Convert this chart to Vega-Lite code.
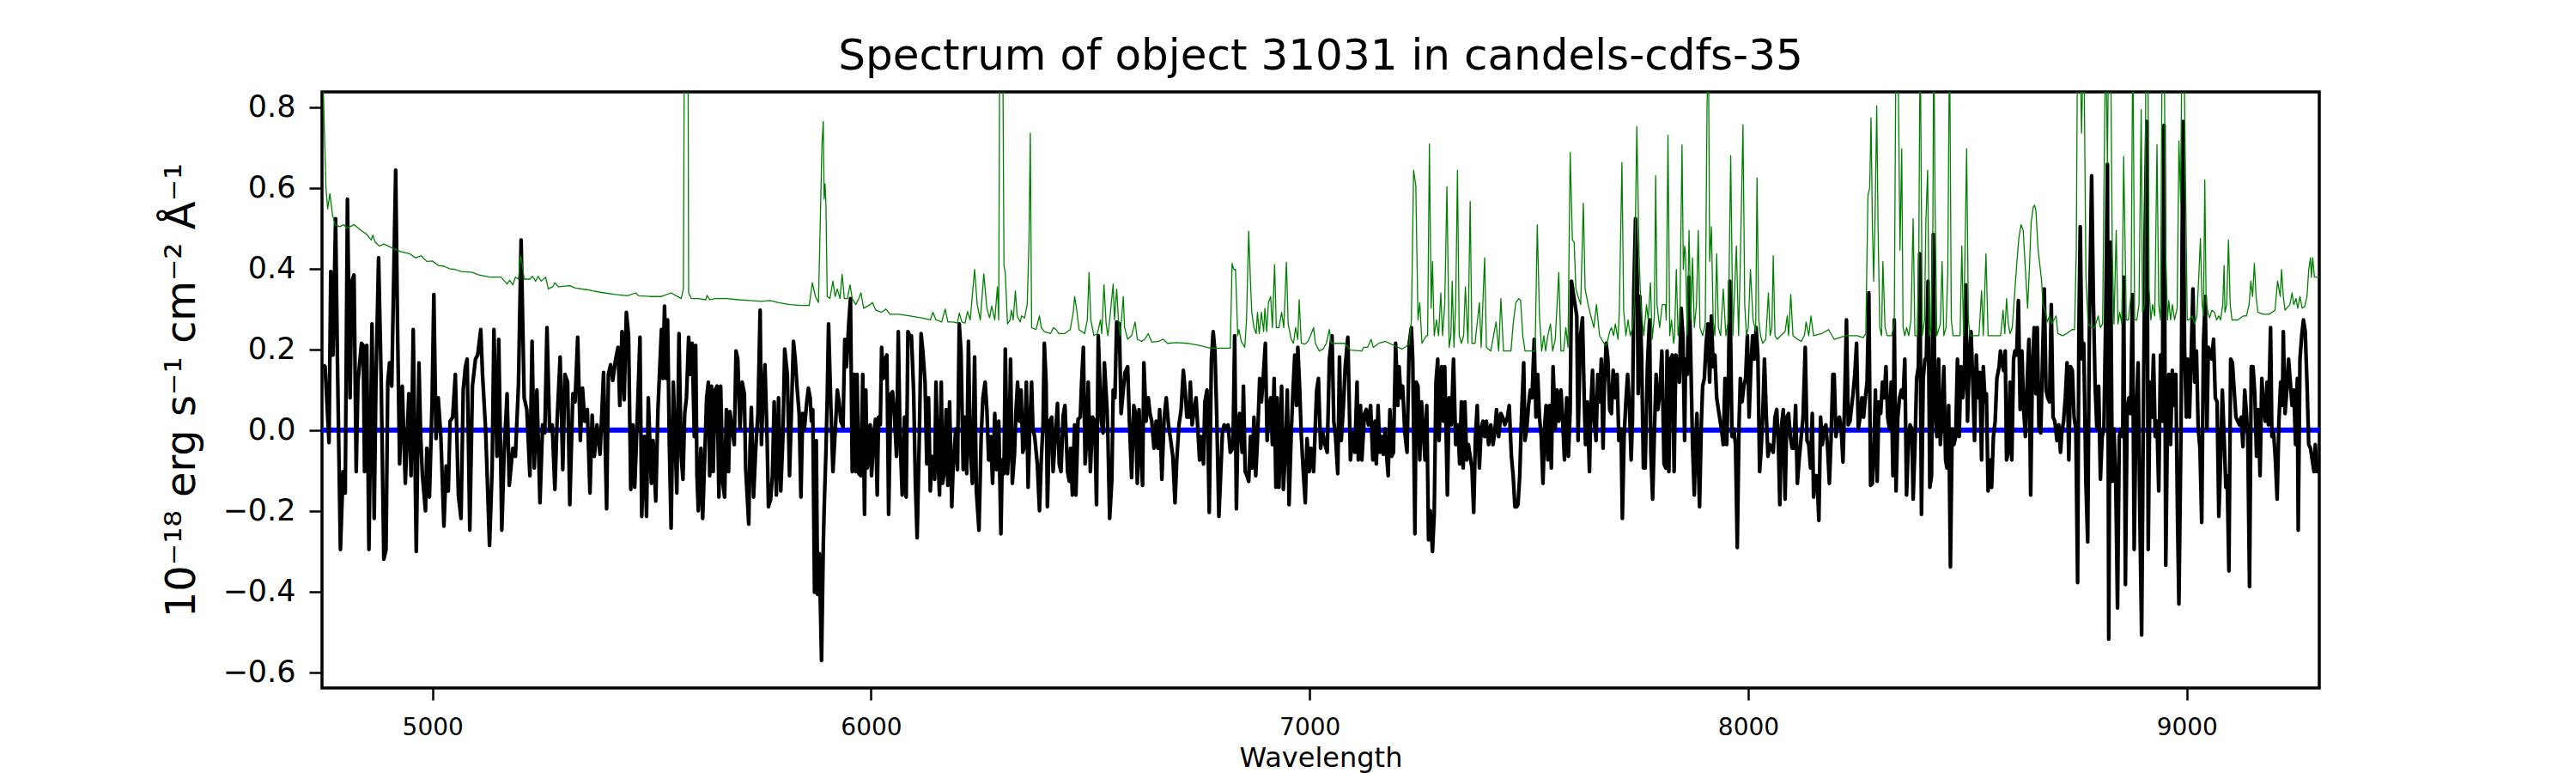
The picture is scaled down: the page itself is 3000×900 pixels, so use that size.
{
  "$schema": "https://vega.github.io/schema/vega-lite/v6.json",
  "description": "Spectrum of object 31031 in candels-cdfs-35",
  "width": 2326,
  "height": 694,
  "autosize": {"type": "none"},
  "padding": {"left": 375, "top": 107, "right": 299, "bottom": 99},
  "background": "white",
  "title": {
    "text": "Spectrum of object 31031 in candels-cdfs-35",
    "font": "DejaVu Sans",
    "fontSize": 50,
    "fontWeight": "normal",
    "color": "black",
    "anchor": "middle",
    "frame": "group",
    "baseline": "bottom",
    "offset": 14,
    "dy": 48
  },
  "datasets": {
    "flux": [
      {"w":4751,"f":0.162},{"w":4755,"f":0.157},{"w":4764,"f":-0.031},{"w":4768,"f":0.393},{"w":4773,"f":0.186},{"w":4779,"f":0.524},{"w":4783,"f":0.186},{"w":4790,"f":-0.296},{"w":4796,"f":-0.103},{"w":4801,"f":-0.156},{"w":4806,"f":0.572},{"w":4812,"f":0.08},{"w":4816,"f":0.369},{"w":4821,"f":0.384},{"w":4826,"f":-0.103},{"w":4830,"f":0.119},{"w":4838,"f":0.215},{"w":4842,"f":0.21},{"w":4845,"f":-0.103},{"w":4850,"f":0.21},{"w":4855,"f":-0.296},{"w":4862,"f":0.263},{"w":4867,"f":-0.219},{"w":4871,"f":0.119},{"w":4877,"f":0.427},{"w":4883,"f":0.119},{"w":4889,"f":-0.32},{"w":4894,"f":-0.296},{"w":4898,"f":0.119},{"w":4902,"f":0.167},{"w":4907,"f":0.109},{"w":4916,"f":0.644},{"w":4920,"f":0.273},{"w":4925,"f":-0.084},{"w":4931,"f":0.109},{"w":4938,"f":-0.132},{"w":4946,"f":0.09},{"w":4951,"f":-0.113},{"w":4956,"f":0.249},{"w":4963,"f":-0.301},{"w":4969,"f":0.167},{"w":4973,"f":-0.016},{"w":4977,"f":-0.113},{"w":4984,"f":-0.2},{"w":4987,"f":-0.045},{"w":4993,"f":-0.166},{"w":4999,"f":0.07},{"w":5003,"f":0.336},{"w":5008,"f":-0.021},{"w":5013,"f":0.08},{"w":5019,"f":-0.016},{"w":5026,"f":-0.238},{"w":5031,"f":-0.089},{"w":5036,"f":-0.151},{"w":5040,"f":0.022},{"w":5046,"f":0.032},{"w":5052,"f":0.138},{"w":5059,"f":-0.161},{"w":5065,"f":-0.219},{"w":5070,"f":0.099},{"w":5075,"f":0.157},{"w":5079,"f":0.176},{"w":5085,"f":-0.248},{"w":5091,"f":0.109},{"w":5098,"f":0.176},{"w":5103,"f":0.186},{"w":5110,"f":0.249},{"w":5114,"f":0.138},{"w":5121,"f":0.003},{"w":5130,"f":-0.286},{"w":5136,"f":-0.094},{"w":5140,"f":0.249},{"w":5147,"f":-0.065},{"w":5151,"f":0.225},{"w":5158,"f":-0.248},{"w":5163,"f":-0.065},{"w":5170,"f":0.09},{"w":5175,"f":-0.137},{"w":5183,"f":-0.045},{"w":5189,"f":-0.065},{"w":5196,"f":0.114},{"w":5202,"f":0.471},{"w":5209,"f":0.08},{"w":5215,"f":0.051},{"w":5222,"f":-0.113},{"w":5227,"f":0.22},{"w":5232,"f":-0.094},{"w":5238,"f":0.099},{"w":5245,"f":-0.18},{"w":5251,"f":0.013},{"w":5256,"f":-0.007},{"w":5261,"f":0.254},{"w":5267,"f":-0.002},{"w":5273,"f":0.013},{"w":5279,"f":-0.147},{"w":5284,"f":0.022},{"w":5291,"f":0.181},{"w":5297,"f":-0.098},{"w":5302,"f":0.138},{"w":5308,"f":0.119},{"w":5313,"f":-0.185},{"w":5320,"f":0.09},{"w":5325,"f":0.07},{"w":5331,"f":0.23},{"w":5337,"f":-0.026},{"w":5342,"f":0.104},{"w":5347,"f":0.022},{"w":5353,"f":0.051},{"w":5359,"f":-0.156},{"w":5364,"f":0.037},{"w":5369,"f":-0.065},{"w":5375,"f":0.013},{"w":5382,"f":-0.06},{"w":5390,"f":0.143},{"w":5397,"f":-0.195},{"w":5401,"f":0.138},{"w":5406,"f":0.162},{"w":5411,"f":0.123},{"w":5417,"f":0.172},{"w":5423,"f":0.205},{"w":5427,"f":0.061},{"w":5432,"f":0.244},{"w":5437,"f":0.075},{"w":5442,"f":0.292},{"w":5447,"f":0.234},{"w":5452,"f":-0.147},{"w":5457,"f":0.013},{"w":5461,"f":-0.142},{"w":5466,"f":0.003},{"w":5473,"f":0.23},{"w":5477,"f":-0.214},{"w":5483,"f":-0.016},{"w":5488,"f":-0.214},{"w":5492,"f":0.08},{"w":5499,"f":-0.132},{"w":5503,"f":-0.026},{"w":5509,"f":-0.176},{"w":5514,"f":0.051},{"w":5522,"f":0.249},
      {"w":5525,"f":0.128},{"w":5529,"f":0.307},{"w":5533,"f":0.128},{"w":5536,"f":0.273},{"w":5540,"f":-0.036},{"w":5544,"f":-0.243},{"w":5549,"f":0.119},{"w":5553,"f":-0.016},{"w":5557,"f":-0.156},{"w":5562,"f":0.239},{"w":5567,"f":-0.065},{"w":5571,"f":-0.122},{"w":5575,"f":0.041},{"w":5579,"f":0.08},{"w":5584,"f":0.23},{"w":5588,"f":0.138},{"w":5592,"f":0.215},{"w":5597,"f":-0.016},{"w":5600,"f":0.21},{"w":5603,"f":-0.113},{"w":5606,"f":-0.2},{"w":5612,"f":-0.045},{"w":5616,"f":-0.219},{"w":5621,"f":-0.055},{"w":5625,"f":0.08},{"w":5629,"f":0.119},{"w":5632,"f":-0.113},{"w":5636,"f":0.109},{"w":5640,"f":-0.103},{"w":5644,"f":0.099},{"w":5649,"f":0.109},{"w":5653,"f":-0.166},{"w":5657,"f":0.109},{"w":5662,"f":-0.132},{"w":5666,"f":-0.166},{"w":5670,"f":0.051},{"w":5675,"f":-0.103},{"w":5678,"f":0.046},{"w":5683,"f":0.003},{"w":5688,"f":-0.036},{"w":5692,"f":0.196},{"w":5696,"f":0.176},{"w":5701,"f":0.003},{"w":5706,"f":0.119},{"w":5711,"f":0.09},{"w":5714,"f":-0.094},{"w":5721,"f":-0.233},{"w":5724,"f":-0.045},{"w":5727,"f":0.056},{"w":5732,"f":-0.166},{"w":5737,"f":-0.045},{"w":5742,"f":0.041},{"w":5747,"f":0.297},{"w":5750,"f":-0.036},{"w":5753,"f":0.061},{"w":5758,"f":0.162},{"w":5763,"f":-0.026},{"w":5766,"f":-0.19},{"w":5771,"f":-0.171},{"w":5775,"f":-0.113},{"w":5779,"f":0.07},{"w":5784,"f":-0.161},{"w":5789,"f":0.08},{"w":5794,"f":-0.151},{"w":5799,"f":-0.016},{"w":5803,"f":0.201},{"w":5809,"f":0.138},{"w":5814,"f":-0.113},{"w":5818,"f":0.032},{"w":5823,"f":0.22},{"w":5827,"f":0.176},{"w":5831,"f":0.109},{"w":5836,"f":0.041},{"w":5840,"f":-0.166},{"w":5844,"f":0.041},{"w":5848,"f":0.003},{"w":5853,"f":0.066},{"w":5857,"f":0.104},{"w":5861,"f":0.08},{"w":5864,"f":0.022},{"w":5867,"f":0.051},{"w":5871,"f":-0.402},{"w":5875,"f":-0.026},{"w":5878,"f":-0.407},{"w":5882,"f":-0.306},{"w":5887,"f":-0.571},{"w":5891,"f":-0.286},{"w":5893,"f":-0.195},{"w":5897,"f":-0.055},{"w":5900,"f":0.08},{"w":5903,"f":0.263},{"w":5908,"f":0.07},{"w":5913,"f":-0.103},{"w":5918,"f":-0.007},{"w":5923,"f":0.099},{"w":5927,"f":0.07},{"w":5931,"f":0.022},{"w":5936,"f":0.008},{"w":5940,"f":0.225},{"w":5944,"f":0.157},{"w":5949,"f":0.263},{"w":5953,"f":0.326},{"w":5957,"f":-0.103},{"w":5962,"f":0.138},{"w":5965,"f":-0.103},{"w":5968,"f":0.138},{"w":5972,"f":-0.108},{"w":5977,"f":-0.113},{"w":5981,"f":0.138},{"w":5985,"f":-0.209},{"w":5988,"f":0.099},{"w":5991,"f":-0.094},{"w":5994,"f":-0.074},{"w":5998,"f":0.013},{"w":6001,"f":-0.113},{"w":6006,"f":-0.016},{"w":6010,"f":0.027},{"w":6014,"f":-0.161},{"w":6017,"f":0.032},{"w":6021,"f":0.013},{"w":6024,"f":0.205},{"w":6028,"f":0.128},{"w":6032,"f":0.176},{"w":6036,"f":0.186},{"w":6040,"f":-0.209},{"w":6045,"f":0.09},{"w":6049,"f":0.095},{"w":6053,"f":0.041},{"w":6058,"f":-0.065},{"w":6062,"f":0.244},{"w":6066,"f":-0.016},{"w":6071,"f":-0.161},{"w":6076,"f":0.032},{"w":6080,"f":-0.166},{"w":6084,"f":0.244},{"w":6088,"f":0.234},{"w":6092,"f":0.234},{"w":6097,"f":0.095},{"w":6101,"f":-0.132},{"w":6105,"f":-0.267},{"w":6110,"f":-0.016},{"w":6114,"f":0.239},{"w":6118,"f":0.196},{"w":6123,"f":0.119},{"w":6127,"f":-0.084},{"w":6131,"f":0.08},{"w":6135,"f":-0.151},{"w":6139,"f":-0.065},{"w":6145,"f":-0.122},{"w":6148,"f":0.119},{"w":6152,"f":-0.055},{"w":6156,"f":-0.161},{"w":6160,"f":0.119},{"w":6163,"f":-0.132},{"w":6167,"f":-0.103},{"w":6171,"f":0.051},{"w":6175,"f":-0.137},{"w":6179,"f":0.07},{"w":6184,"f":-0.19},{"w":6187,"f":-0.094},{"w":6193,"f":0.003},{"w":6197,"f":-0.098},{"w":6201,"f":0.263},{"w":6205,"f":0.196},{"w":6210,"f":-0.098},{"w":6214,"f":0.032},{"w":6218,"f":-0.108},{"w":6222,"f":0.22},{"w":6226,"f":-0.045},{"w":6231,"f":-0.132},{"w":6236,"f":0.181},{"w":6240,"f":-0.151},{"w":6246,"f":-0.248},{"w":6251,"f":-0.016},{"w":6255,"f":0.08},{"w":6260,"f":0.119},{"w":6264,"f":0.051},{"w":6268,"f":-0.074},{"w":6273,"f":-0.016},{"w":6277,"f":-0.132},{"w":6282,"f":0.041},
      {"w":6286,"f":-0.098},{"w":6291,"f":0.022},{"w":6296,"f":-0.257},{"w":6299,"f":-0.074},{"w":6303,"f":-0.108},{"w":6306,"f":0.201},{"w":6311,"f":-0.108},{"w":6315,"f":-0.026},{"w":6318,"f":0.176},{"w":6322,"f":-0.132},{"w":6327,"f":-0.06},{"w":6330,"f":0.041},{"w":6334,"f":0.119},{"w":6338,"f":0.022},{"w":6342,"f":0.099},{"w":6346,"f":-0.055},{"w":6350,"f":-0.036},{"w":6354,"f":0.119},{"w":6358,"f":-0.142},{"w":6362,"f":0.013},{"w":6366,"f":0.119},{"w":6369,"f":0.003},{"w":6373,"f":-0.016},{"w":6379,"f":-0.084},{"w":6384,"f":-0.2},{"w":6388,"f":-0.074},{"w":6392,"f":0.013},{"w":6395,"f":0.215},{"w":6399,"f":0.119},{"w":6402,"f":-0.19},{"w":6407,"f":0.022},{"w":6412,"f":0.032},{"w":6415,"f":-0.103},{"w":6420,"f":-0.016},{"w":6425,"f":0.066},{"w":6429,"f":-0.084},{"w":6433,"f":-0.103},{"w":6438,"f":0.037},{"w":6442,"f":0.061},{"w":6448,"f":-0.103},{"w":6452,"f":-0.127},{"w":6455,"f":-0.045},{"w":6459,"f":-0.161},{"w":6464,"f":0.013},{"w":6467,"f":-0.161},{"w":6472,"f":0.027},{"w":6477,"f":0.032},{"w":6480,"f":0.119},{"w":6484,"f":0.205},{"w":6488,"f":-0.084},{"w":6492,"f":-0.016},{"w":6495,"f":0.119},{"w":6500,"f":-0.103},{"w":6505,"f":0.032},{"w":6510,"f":0.022},{"w":6514,"f":-0.185},{"w":6518,"f":0.234},{"w":6521,"f":0.138},{"w":6525,"f":0.022},{"w":6529,"f":-0.007},{"w":6532,"f":0.167},{"w":6538,"f":0.051},{"w":6540,"f":-0.016},{"w":6544,"f":-0.219},{"w":6549,"f":-0.122},{"w":6552,"f":0.099},{"w":6556,"f":0.08},{"w":6560,"f":0.268},{"w":6566,"f":0.263},{"w":6570,"f":0.041},{"w":6575,"f":0.099},{"w":6579,"f":0.143},{"w":6585,"f":0.157},{"w":6589,"f":0.022},{"w":6594,"f":-0.118},{"w":6599,"f":0.061},{"w":6603,"f":0.041},{"w":6607,"f":-0.132},{"w":6611,"f":0.051},{"w":6615,"f":-0.06},{"w":6619,"f":-0.137},{"w":6622,"f":0.167},{"w":6627,"f":0.022},{"w":6632,"f":0.08},{"w":6636,"f":0.041},{"w":6640,"f":0.022},{"w":6645,"f":-0.045},{"w":6650,"f":0.022},{"w":6654,"f":-0.045},{"w":6658,"f":0.051},{"w":6663,"f":-0.122},{"w":6668,"f":0.027},{"w":6673,"f":0.08},{"w":6678,"f":0.013},{"w":6682,"f":-0.016},{"w":6688,"f":-0.065},{"w":6693,"f":-0.18},{"w":6697,"f":-0.074},{"w":6702,"f":0.013},{"w":6707,"f":0.051},{"w":6712,"f":0.148},{"w":6716,"f":0.099},{"w":6720,"f":0.032},{"w":6725,"f":0.032},{"w":6728,"f":0.119},{"w":6732,"f":0.013},{"w":6736,"f":0.046},{"w":6741,"f":0.08},{"w":6745,"f":0.003},{"w":6749,"f":-0.074},{"w":6753,"f":-0.016},{"w":6758,"f":-0.084},{"w":6761,"f":0.07},{"w":6766,"f":0.099},{"w":6771,"f":-0.204},{"w":6776,"f":0.176},{"w":6780,"f":0.244},{"w":6784,"f":0.196},{"w":6788,"f":0.041},{"w":6793,"f":-0.214},{"w":6797,"f":-0.113},{"w":6801,"f":-0.007},{"w":6805,"f":0.013},{"w":6810,"f":0.003},{"w":6814,"f":0.013},{"w":6819,"f":-0.055},{"w":6825,"f":-0.045},{"w":6829,"f":0.234},{"w":6833,"f":-0.195},{"w":6836,"f":-0.016},{"w":6840,"f":0.041},{"w":6846,"f":-0.055},{"w":6849,"f":0.109},{"w":6853,"f":-0.103},{"w":6857,"f":-0.113},{"w":6861,"f":-0.127},{"w":6865,"f":-0.016},{"w":6869,"f":-0.094},{"w":6873,"f":0.032},{"w":6877,"f":-0.113},{"w":6881,"f":-0.026},{"w":6886,"f":0.128},{"w":6890,"f":0.07},{"w":6894,"f":0.128},{"w":6899,"f":0.215},{"w":6903,"f":-0.026},{"w":6907,"f":0.051},{"w":6911,"f":0.08},{"w":6915,"f":-0.036},{"w":6919,"f":0.128},{"w":6923,"f":-0.142},{"w":6926,"f":0.08},{"w":6930,"f":-0.142},{"w":6936,"f":0.109},{"w":6940,"f":-0.147},{"w":6945,"f":-0.045},{"w":6949,"f":0.099},{"w":6953,"f":-0.185},{"w":6958,"f":-0.007},{"w":6962,"f":0.099},{"w":6966,"f":0.186},{"w":6970,"f":0.061},{"w":6973,"f":0.205},{"w":6977,"f":0.109},{"w":6981,"f":-0.016},{"w":6986,"f":-0.113},{"w":6990,"f":-0.18},{"w":6994,"f":-0.021},{"w":6999,"f":-0.103},{"w":7003,"f":-0.045},{"w":7009,"f":-0.103},{"w":7013,"f":0.013},{"w":7016,"f":0.099},{"w":7020,"f":0.128},{"w":7025,"f":-0.045},{"w":7030,"f":-0.007},{"w":7035,"f":-0.036},{"w":7040,"f":-0.055},{"w":7045,"f":0.176},
      {"w":7051,"f":0.234},{"w":7055,"f":0.022},{"w":7059,"f":-0.016},{"w":7064,"f":-0.108},{"w":7068,"f":0.181},{"w":7072,"f":-0.026},{"w":7077,"f":0.061},{"w":7081,"f":0.157},{"w":7087,"f":0.23},{"w":7090,"f":0.08},{"w":7093,"f":-0.074},{"w":7098,"f":-0.007},{"w":7103,"f":-0.055},{"w":7108,"f":0.119},{"w":7111,"f":-0.074},{"w":7116,"f":0.061},{"w":7119,"f":-0.074},{"w":7125,"f":0.041},{"w":7129,"f":0.051},{"w":7134,"f":0.013},{"w":7139,"f":0.061},{"w":7144,"f":-0.074},{"w":7149,"f":0.022},{"w":7152,"f":-0.084},{"w":7156,"f":0.061},{"w":7160,"f":-0.055},{"w":7164,"f":-0.016},{"w":7168,"f":-0.06},{"w":7172,"f":0.003},{"w":7175,"f":-0.055},{"w":7179,"f":-0.113},{"w":7183,"f":0.051},{"w":7187,"f":-0.065},{"w":7191,"f":-0.055},{"w":7196,"f":0.215},{"w":7201,"f":0.061},{"w":7204,"f":0.157},{"w":7208,"f":0.08},{"w":7212,"f":0.109},{"w":7217,"f":-0.007},{"w":7222,"f":-0.055},{"w":7227,"f":0.215},{"w":7232,"f":0.254},{"w":7235,"f":0.176},{"w":7240,"f":-0.257},{"w":7243,"f":0.119},{"w":7247,"f":0.109},{"w":7251,"f":-0.074},{"w":7255,"f":0.07},{"w":7260,"f":-0.016},{"w":7263,"f":-0.074},{"w":7267,"f":0.061},{"w":7271,"f":-0.272},{"w":7275,"f":-0.2},{"w":7280,"f":-0.301},{"w":7284,"f":-0.209},{"w":7288,"f":0.119},{"w":7292,"f":0.176},{"w":7295,"f":-0.026},{"w":7301,"f":0.157},{"w":7305,"f":0.022},{"w":7308,"f":0.157},{"w":7314,"f":-0.161},{"w":7318,"f":0.08},{"w":7323,"f":0.013},{"w":7328,"f":0.176},{"w":7333,"f":-0.036},{"w":7338,"f":0.013},{"w":7342,"f":-0.084},{"w":7346,"f":0.07},{"w":7350,"f":-0.094},{"w":7354,"f":0.07},{"w":7358,"f":-0.074},{"w":7362,"f":-0.036},{"w":7366,"f":-0.065},{"w":7370,"f":-0.094},{"w":7374,"f":-0.204},{"w":7378,"f":-0.016},{"w":7382,"f":0.061},{"w":7387,"f":-0.094},{"w":7391,"f":0.003},{"w":7395,"f":0.022},{"w":7399,"f":-0.016},{"w":7403,"f":0.022},{"w":7408,"f":-0.036},{"w":7413,"f":0.013},{"w":7418,"f":-0.036},{"w":7422,"f":-0.007},{"w":7426,"f":0.051},{"w":7431,"f":-0.016},{"w":7436,"f":0.041},{"w":7440,"f":0.032},{"w":7445,"f":0.013},{"w":7451,"f":0.032},{"w":7455,"f":0.061},{"w":7460,"f":-0.065},{"w":7464,"f":-0.113},{"w":7468,"f":-0.19},{"w":7472,"f":-0.19},{"w":7475,"f":-0.185},{"w":7479,"f":-0.113},{"w":7483,"f":0.032},{"w":7488,"f":0.167},{"w":7491,"f":-0.026},{"w":7495,"f":0.003},{"w":7499,"f":0.061},{"w":7503,"f":0.099},{"w":7507,"f":0.08},{"w":7512,"f":0.225},{"w":7516,"f":0.032},{"w":7520,"f":0.138},{"w":7524,"f":0.032},{"w":7528,"f":-0.016},{"w":7532,"f":-0.132},{"w":7536,"f":0.013},{"w":7539,"f":0.061},{"w":7543,"f":-0.074},{"w":7547,"f":0.061},{"w":7551,"f":-0.094},{"w":7555,"f":0.157},{"w":7560,"f":0.003},{"w":7564,"f":0.099},{"w":7568,"f":0.022},{"w":7573,"f":0.099},{"w":7577,"f":0.022},{"w":7581,"f":-0.074},{"w":7586,"f":0.08},{"w":7590,"f":-0.065},{"w":7594,"f":0.051},{"w":7597,"f":0.369},{"w":7601,"f":0.34},{"w":7605,"f":0.311},{"w":7609,"f":0.283},{"w":7612,"f":-0.026},{"w":7617,"f":0.225},{"w":7622,"f":0.278},{"w":7626,"f":0.08},{"w":7629,"f":-0.036},{"w":7633,"f":0.07},{"w":7638,"f":-0.103},{"w":7641,"f":0.051},{"w":7645,"f":0.148},{"w":7649,"f":0.022},{"w":7653,"f":-0.026},{"w":7657,"f":0.138},{"w":7661,"f":0.07},{"w":7665,"f":0.176},{"w":7669,"f":-0.045},{"w":7672,"f":0.109},{"w":7676,"f":0.215},{"w":7680,"f":0.176},{"w":7684,"f":0.051},{"w":7688,"f":0.041},{"w":7692,"f":0.148},{"w":7697,"f":0.08},{"w":7701,"f":0.138},{"w":7705,"f":-0.026},{"w":7710,"f":0.003},{"w":7713,"f":-0.219},{"w":7717,"f":-0.016},{"w":7721,"f":0.07},{"w":7725,"f":0.138},{"w":7729,"f":0.061},{"w":7733,"f":-0.074},{"w":7736,"f":0.022},{"w":7739,"f":0.34},{"w":7743,"f":0.524},{"w":7747,"f":0.369},{"w":7749,"f":0.09},{"w":7753,"f":0.331},{"w":7757,"f":0.176},{"w":7761,"f":-0.094},{"w":7765,"f":-0.094},{"w":7770,"f":0.157},{"w":7775,"f":0.273},{"w":7778,"f":-0.055},{"w":7782,"f":-0.171},{"w":7786,"f":-0.007},{"w":7790,"f":0.138},{"w":7794,"f":0.051},{"w":7799,"f":0.099},{"w":7803,"f":0.196},{"w":7808,"f":-0.084},
      {"w":7812,"f":-0.094},{"w":7815,"f":0.196},{"w":7819,"f":-0.103},{"w":7823,"f":0.176},{"w":7827,"f":0.186},{"w":7831,"f":-0.103},{"w":7835,"f":0.186},{"w":7839,"f":0.148},{"w":7843,"f":0.119},{"w":7847,"f":0.302},{"w":7851,"f":0.234},{"w":7855,"f":-0.026},{"w":7857,"f":0.176},{"w":7861,"f":0.138},{"w":7865,"f":0.379},{"w":7869,"f":0.176},{"w":7873,"f":-0.036},{"w":7877,"f":-0.161},{"w":7880,"f":-0.036},{"w":7883,"f":0.041},{"w":7889,"f":-0.19},{"w":7893,"f":0.013},{"w":7896,"f":0.109},{"w":7900,"f":0.128},{"w":7904,"f":0.215},{"w":7908,"f":0.263},{"w":7912,"f":0.119},{"w":7916,"f":0.283},{"w":7920,"f":0.157},{"w":7924,"f":0.186},{"w":7928,"f":0.08},{"w":7932,"f":0.051},{"w":7936,"f":0.022},{"w":7939,"f":0.003},{"w":7943,"f":-0.036},{"w":7947,"f":0.128},{"w":7951,"f":-0.036},{"w":7955,"f":0.138},{"w":7958,"f":0.369},{"w":7963,"f":-0.016},{"w":7967,"f":0.003},{"w":7971,"f":-0.036},{"w":7975,"f":-0.291},{"w":7979,"f":0.013},{"w":7982,"f":0.128},{"w":7986,"f":0.07},{"w":7990,"f":0.109},{"w":7994,"f":0.128},{"w":7998,"f":0.234},{"w":8002,"f":0.032},{"w":8006,"f":0.157},{"w":8010,"f":0.234},{"w":8014,"f":0.176},{"w":8018,"f":0.254},{"w":8022,"f":0.186},{"w":8026,"f":-0.103},{"w":8029,"f":-0.055},{"w":8033,"f":0.032},{"w":8037,"f":0.176},{"w":8041,"f":0.041},{"w":8045,"f":-0.065},{"w":8049,"f":-0.036},{"w":8053,"f":-0.045},{"w":8057,"f":-0.055},{"w":8061,"f":0.032},{"w":8065,"f":0.051},{"w":8069,"f":-0.045},{"w":8072,"f":-0.185},{"w":8076,"f":0.013},{"w":8080,"f":0.051},{"w":8084,"f":-0.171},{"w":8088,"f":0.032},{"w":8092,"f":0.041},{"w":8096,"f":-0.016},{"w":8100,"f":-0.045},{"w":8104,"f":-0.045},{"w":8108,"f":0.061},{"w":8112,"f":-0.132},{"w":8116,"f":-0.074},{"w":8120,"f":-0.026},{"w":8125,"f":0.032},{"w":8130,"f":0.205},{"w":8134,"f":-0.026},{"w":8138,"f":-0.036},{"w":8142,"f":-0.094},{"w":8146,"f":0.041},{"w":8149,"f":-0.166},{"w":8153,"f":-0.113},{"w":8157,"f":-0.113},{"w":8161,"f":-0.224},{"w":8165,"f":0.032},{"w":8169,"f":-0.036},{"w":8173,"f":0.003},{"w":8177,"f":0.013},{"w":8181,"f":-0.045},{"w":8185,"f":-0.132},{"w":8189,"f":-0.016},{"w":8193,"f":0.138},{"w":8196,"f":0.138},{"w":8200,"f":-0.016},{"w":8204,"f":0.022},{"w":8208,"f":0.032},{"w":8212,"f":0.003},{"w":8216,"f":-0.079},{"w":8220,"f":0.08},{"w":8224,"f":0.273},{"w":8228,"f":0.013},{"w":8232,"f":0.022},{"w":8236,"f":0.061},{"w":8239,"f":0.09},{"w":8243,"f":0.138},{"w":8247,"f":0.215},{"w":8251,"f":0.003},{"w":8255,"f":0.032},{"w":8259,"f":0.08},{"w":8263,"f":0.032},{"w":8267,"f":0.08},{"w":8271,"f":0.119},{"w":8275,"f":0.34},{"w":8279,"f":-0.137},{"w":8283,"f":-0.132},{"w":8286,"f":-0.065},{"w":8290,"f":0.099},{"w":8294,"f":-0.127},{"w":8298,"f":0.07},{"w":8302,"f":0.041},{"w":8306,"f":0.119},{"w":8310,"f":0.08},{"w":8314,"f":0.157},{"w":8318,"f":0.032},{"w":8322,"f":0.003},{"w":8326,"f":0.119},{"w":8330,"f":-0.113},{"w":8333,"f":0.273},{"w":8337,"f":-0.151},{"w":8341,"f":0.032},{"w":8345,"f":0.08},{"w":8349,"f":0.099},{"w":8353,"f":0.08},{"w":8357,"f":0.176},{"w":8361,"f":-0.161},{"w":8365,"f":-0.036},{"w":8369,"f":0.013},{"w":8373,"f":0.003},{"w":8376,"f":-0.171},{"w":8380,"f":-0.045},{"w":8384,"f":0.128},{"w":8388,"f":0.157},{"w":8391,"f":0.437},{"w":8395,"f":-0.209},{"w":8399,"f":0.128},{"w":8403,"f":0.176},{"w":8406,"f":0.176},{"w":8410,"f":0.369},{"w":8414,"f":-0.142},{"w":8418,"f":-0.113},{"w":8422,"f":0.485},{"w":8426,"f":0.041},{"w":8430,"f":-0.016},{"w":8434,"f":0.176},{"w":8438,"f":-0.036},{"w":8442,"f":0.032},{"w":8446,"f":0.157},{"w":8450,"f":-0.074},{"w":8453,"f":-0.094},{"w":8457,"f":0.061},{"w":8461,"f":-0.339},{"w":8465,"f":0.003},{"w":8469,"f":-0.036},{"w":8473,"f":-0.016},{"w":8477,"f":0.176},{"w":8481,"f":-0.016},{"w":8485,"f":0.157},{"w":8489,"f":0.08},{"w":8493,"f":0.138},{"w":8496,"f":0.36},{"w":8500,"f":0.022},{"w":8504,"f":0.176},{"w":8508,"f":0.244},{"w":8512,"f":0.119},{"w":8516,"f":-0.026},{"w":8520,"f":0.186},{"w":8524,"f":0.08},{"w":8528,"f":0.143},{"w":8532,"f":-0.074},{"w":8536,"f":0.157},{"w":8540,"f":0.07},{"w":8543,"f":0.09},{"w":8547,"f":-0.151},{"w":8551,"f":-0.074},{"w":8555,"f":-0.142},{"w":8559,"f":-0.016},{"w":8563,"f":0.022},{"w":8567,"f":0.128},{"w":8572,"f":0.157},
      {"w":8575,"f":0.196},{"w":8578,"f":0.176},{"w":8582,"f":0.148},{"w":8586,"f":0.196},{"w":8589,"f":-0.074},{"w":8593,"f":-0.055},{"w":8597,"f":0.119},{"w":8601,"f":-0.074},{"w":8605,"f":0.176},{"w":8608,"f":0.196},{"w":8612,"f":0.186},{"w":8616,"f":0.321},{"w":8620,"f":0.051},{"w":8624,"f":0.196},{"w":8628,"f":0.051},{"w":8632,"f":-0.016},{"w":8636,"f":0.119},{"w":8640,"f":0.225},{"w":8644,"f":-0.161},{"w":8648,"f":0.157},{"w":8652,"f":0.254},{"w":8656,"f":0.09},{"w":8659,"f":0.254},{"w":8663,"f":0.003},{"w":8667,"f":-0.007},{"w":8671,"f":0.176},{"w":8675,"f":0.35},{"w":8679,"f":0.099},{"w":8683,"f":0.08},{"w":8687,"f":0.07},{"w":8691,"f":0.311},{"w":8695,"f":0.032},{"w":8699,"f":0.022},{"w":8704,"f":-0.026},{"w":8708,"f":0.013},{"w":8712,"f":-0.055},{"w":8715,"f":-0.007},{"w":8719,"f":0.022},{"w":8723,"f":0.08},{"w":8727,"f":0.167},{"w":8731,"f":-0.074},{"w":8735,"f":0.157},{"w":8739,"f":0.148},{"w":8743,"f":0.032},{"w":8747,"f":0.003},{"w":8751,"f":-0.378},{"w":8754,"f":0.254},{"w":8757,"f":0.504},{"w":8761,"f":0.176},{"w":8765,"f":0.215},{"w":8770,"f":-0.132},{"w":8774,"f":-0.277},{"w":8778,"f":0.273},{"w":8783,"f":0.63},{"w":8787,"f":0.321},{"w":8791,"f":0.109},{"w":8795,"f":0.003},{"w":8799,"f":0.109},{"w":8803,"f":-0.122},{"w":8807,"f":-0.016},{"w":8811,"f":0.003},{"w":8815,"f":0.273},{"w":8819,"f":0.659},{"w":8822,"f":-0.518},{"w":8826,"f":0.466},{"w":8830,"f":-0.127},{"w":8834,"f":0.003},{"w":8838,"f":-0.132},{"w":8842,"f":-0.441},{"w":8846,"f":-0.016},{"w":8850,"f":0.003},{"w":8854,"f":-0.016},{"w":8856,"f":0.379},{"w":8860,"f":-0.383},{"w":8864,"f":0.051},{"w":8868,"f":0.08},{"w":8872,"f":0.041},{"w":8876,"f":0.336},{"w":8880,"f":-0.296},{"w":8884,"f":0.022},{"w":8889,"f":0.167},{"w":8893,"f":-0.219},{"w":8897,"f":-0.508},{"w":8901,"f":0.051},{"w":8905,"f":0.485},{"w":8909,"f":0.765},{"w":8912,"f":-0.296},{"w":8916,"f":0.119},{"w":8920,"f":0.032},{"w":8924,"f":0.186},{"w":8928,"f":-0.016},{"w":8932,"f":0.022},{"w":8936,"f":-0.151},{"w":8940,"f":0.186},{"w":8944,"f":0.022},{"w":8948,"f":0.755},{"w":8952,"f":-0.335},{"w":8956,"f":0.032},{"w":8959,"f":0.138},{"w":8963,"f":-0.036},{"w":8967,"f":0.148},{"w":8971,"f":0.061},{"w":8975,"f":0.138},{"w":8979,"f":-0.229},{"w":8982,"f":-0.431},{"w":8987,"f":0.022},{"w":8991,"f":0.765},{"w":8995,"f":0.196},{"w":8999,"f":0.032},{"w":9002,"f":0.176},{"w":9006,"f":0.032},{"w":9010,"f":0.186},{"w":9014,"f":0.35},{"w":9018,"f":0.119},{"w":9022,"f":0.196},{"w":9026,"f":0.003},{"w":9030,"f":-0.045},{"w":9034,"f":-0.229},{"w":9038,"f":0.215},{"w":9042,"f":0.331},{"w":9046,"f":0.003},{"w":9049,"f":0.205},{"w":9053,"f":0.196},{"w":9057,"f":0.176},{"w":9061,"f":0.225},{"w":9065,"f":0.08},{"w":9069,"f":0.07},{"w":9073,"f":-0.214},{"w":9077,"f":-0.074},{"w":9081,"f":0.099},{"w":9085,"f":-0.016},{"w":9089,"f":-0.142},{"w":9092,"f":-0.113},{"w":9096,"f":-0.349},{"w":9100,"f":0.176},{"w":9104,"f":0.167},{"w":9108,"f":0.099},{"w":9112,"f":0.032},{"w":9116,"f":0.022},{"w":9120,"f":0.013},{"w":9124,"f":0.032},{"w":9128,"f":-0.041},{"w":9132,"f":0.099},{"w":9136,"f":0.041},{"w":9139,"f":-0.016},{"w":9143,"f":-0.388},{"w":9147,"f":0.157},{"w":9151,"f":0.157},{"w":9155,"f":0.09},{"w":9159,"f":-0.065},{"w":9163,"f":0.051},{"w":9167,"f":-0.113},{"w":9171,"f":0.128},{"w":9175,"f":0.061},{"w":9179,"f":0.022},{"w":9183,"f":0.119},{"w":9186,"f":0.013},{"w":9191,"f":0.254},{"w":9194,"f":-0.016},{"w":9198,"f":-0.007},{"w":9202,"f":-0.074},{"w":9206,"f":-0.171},{"w":9210,"f":0.022},{"w":9214,"f":0.119},{"w":9218,"f":0.061},{"w":9220,"f":0.244},{"w":9224,"f":0.041},{"w":9228,"f":0.099},{"w":9232,"f":0.176},{"w":9236,"f":0.119},{"w":9240,"f":0.061},{"w":9244,"f":0.099},{"w":9248,"f":-0.036},{"w":9252,"f":0.128},{"w":9254,"f":-0.248},{"w":9258,"f":0.176},{"w":9262,"f":0.234},{"w":9266,"f":0.273},{"w":9270,"f":0.244},{"w":9274,"f":0.119},{"w":9278,"f":-0.036},{"w":9282,"f":-0.045},{"w":9286,"f":-0.074},{"w":9290,"f":-0.103},{"w":9293,"f":-0.036},{"w":9297,"f":-0.103},{"w":9302,"f":-0.09}
    ],
    "err": [
      {"w":4749,"f":0.95},{"w":4752,"f":0.8},{"w":4757,"f":0.6},{"w":4761,"f":0.548},{"w":4766,"f":0.586},{"w":4772,"f":0.533},{"w":4778,"f":0.509},{"w":4788,"f":0.504},{"w":4798,"f":0.509},{"w":4804,"f":0.5},{"w":4821,"f":0.509},{"w":4837,"f":0.495},{"w":4850,"f":0.485},{"w":4860,"f":0.471},{"w":4864,"f":0.483},{"w":4869,"f":0.466},{"w":4879,"f":0.456},{"w":4889,"f":0.461},{"w":4909,"f":0.451},{"w":4928,"f":0.442},{"w":4948,"f":0.437},{"w":4961,"f":0.427},{"w":4974,"f":0.432},{"w":4987,"f":0.418},{"w":5000,"f":0.419},{"w":5013,"f":0.408},{"w":5026,"f":0.406},{"w":5039,"f":0.4},{"w":5052,"f":0.398},{"w":5065,"f":0.393},{"w":5091,"f":0.391},{"w":5104,"f":0.385},{"w":5130,"f":0.379},{"w":5156,"f":0.379},{"w":5170,"f":0.362},{"w":5176,"f":0.371},{"w":5183,"f":0.36},{"w":5189,"f":0.379},{"w":5196,"f":0.374},{"w":5201,"f":0.432},{"w":5205,"f":0.408},{"w":5209,"f":0.374},{"w":5222,"f":0.374},{"w":5228,"f":0.381},{"w":5235,"f":0.369},{"w":5241,"f":0.381},{"w":5248,"f":0.369},{"w":5258,"f":0.379},{"w":5264,"f":0.35},{"w":5274,"f":0.355},{"w":5279,"f":0.365},{"w":5287,"f":0.355},{"w":5313,"f":0.358},{"w":5326,"f":0.352},{"w":5352,"f":0.348},{"w":5365,"f":0.345},{"w":5391,"f":0.34},{"w":5417,"f":0.336},{"w":5444,"f":0.333},{"w":5463,"f":0.34},{"w":5470,"f":0.333},{"w":5496,"f":0.331},{"w":5522,"f":0.331},
      {"w":5544,"f":0.34},{"w":5567,"f":0.326},{"w":5572,"f":0.35},{"w":5575,"f":1.2},{"w":5582,"f":1.2},{"w":5584,"f":0.34},{"w":5590,"f":0.326},{"w":5606,"f":0.326},{"w":5623,"f":0.323},{"w":5626,"f":0.334},{"w":5632,"f":0.323},{"w":5646,"f":0.326},{"w":5672,"f":0.326},{"w":5698,"f":0.323},{"w":5724,"f":0.321},{"w":5750,"f":0.319},{"w":5769,"f":0.321},{"w":5789,"f":0.316},{"w":5815,"f":0.311},{"w":5841,"f":0.309},{"w":5859,"f":0.309},{"w":5866,"f":0.365},{"w":5873,"f":0.331},{"w":5880,"f":0.316},{"w":5888,"f":0.707},{"w":5891,"f":0.765},{"w":5893,"f":0.572},{"w":5895,"f":0.61},{"w":5897,"f":0.562},{"w":5900,"f":0.331},{"w":5906,"f":0.326},{"w":5913,"f":0.369},{"w":5918,"f":0.331},{"w":5923,"f":0.35},{"w":5929,"f":0.326},{"w":5934,"f":0.386},{"w":5939,"f":0.326},{"w":5946,"f":0.326},{"w":5952,"f":0.36},{"w":5957,"f":0.326},{"w":5965,"f":0.311},{"w":5972,"f":0.326},{"w":5977,"f":0.34},{"w":5983,"f":0.302},{"w":5998,"f":0.311},{"w":6003,"f":0.316},{"w":6011,"f":0.297},{"w":6024,"f":0.292},{"w":6034,"f":0.3},{"w":6043,"f":0.287},{"w":6063,"f":0.287},{"w":6089,"f":0.283},{"w":6115,"f":0.278},{"w":6135,"f":0.273},{"w":6141,"f":0.292},{"w":6148,"f":0.273},{"w":6161,"f":0.268},{"w":6169,"f":0.3},{"w":6175,"f":0.268},{"w":6187,"f":0.268},{"w":6197,"f":0.265},{"w":6201,"f":0.29},{"w":6207,"f":0.268},{"w":6214,"f":0.265},{"w":6220,"f":0.294},{"w":6226,"f":0.273},{"w":6236,"f":0.398},{"w":6242,"f":0.311},{"w":6249,"f":0.273},{"w":6257,"f":0.387},{"w":6264,"f":0.302},{"w":6270,"f":0.278},{"w":6275,"f":0.307},{"w":6282,"f":0.273},
      {"w":6288,"f":0.355},{"w":6291,"f":0.273},{"w":6294,"f":1.2},{"w":6299,"f":1.2},{"w":6303,"f":0.408},{"w":6306,"f":0.389},{"w":6311,"f":0.263},{"w":6317,"f":0.273},{"w":6320,"f":0.297},{"w":6324,"f":0.273},{"w":6329,"f":0.345},{"w":6333,"f":0.283},{"w":6340,"f":0.268},{"w":6343,"f":0.283},{"w":6350,"f":0.278},{"w":6356,"f":0.311},{"w":6360,"f":0.466},{"w":6363,"f":0.736},{"w":6366,"f":0.254},{"w":6376,"f":0.249},{"w":6384,"f":0.283},{"w":6388,"f":0.254},{"w":6395,"f":0.244},{"w":6409,"f":0.239},{"w":6416,"f":0.254},{"w":6422,"f":0.249},{"w":6428,"f":0.239},{"w":6441,"f":0.239},{"w":6454,"f":0.249},{"w":6461,"f":0.292},{"w":6464,"f":0.331},{"w":6469,"f":0.297},{"w":6474,"f":0.249},{"w":6487,"f":0.239},{"w":6493,"f":0.273},{"w":6497,"f":0.391},{"w":6501,"f":0.273},{"w":6508,"f":0.234},{"w":6516,"f":0.239},{"w":6523,"f":0.273},{"w":6526,"f":0.239},{"w":6531,"f":0.36},{"w":6536,"f":0.263},{"w":6540,"f":0.234},{"w":6544,"f":0.273},{"w":6552,"f":0.362},{"w":6555,"f":0.273},{"w":6560,"f":0.35},{"w":6564,"f":0.273},{"w":6568,"f":0.234},{"w":6575,"f":0.331},{"w":6578,"f":0.254},{"w":6585,"f":0.225},{"w":6594,"f":0.234},{"w":6602,"f":0.268},{"w":6607,"f":0.225},{"w":6617,"f":0.22},{"w":6624,"f":0.225},{"w":6632,"f":0.239},{"w":6640,"f":0.218},{"w":6656,"f":0.22},{"w":6666,"f":0.225},{"w":6676,"f":0.215},{"w":6696,"f":0.217},{"w":6722,"f":0.215},{"w":6748,"f":0.21},{"w":6774,"f":0.203},{"w":6819,"f":0.203},{"w":6823,"f":0.413},{"w":6827,"f":0.398},{"w":6831,"f":0.398},{"w":6836,"f":0.234},{"w":6839,"f":0.249},{"w":6844,"f":0.22},{"w":6852,"f":0.205},{"w":6856,"f":0.273},{"w":6861,"f":0.493},{"w":6865,"f":0.369},{"w":6868,"f":0.292},{"w":6873,"f":0.254},{"w":6878,"f":0.239},{"w":6881,"f":0.292},{"w":6885,"f":0.239},{"w":6890,"f":0.292},{"w":6895,"f":0.244},{"w":6898,"f":0.302},{"w":6902,"f":0.244},{"w":6906,"f":0.316},{"w":6911,"f":0.331},{"w":6915,"f":0.254},{"w":6920,"f":0.41},{"w":6924,"f":0.254},{"w":6930,"f":0.254},{"w":6936,"f":0.292},{"w":6941,"f":0.254},{"w":6947,"f":0.416},{"w":6951,"f":0.263},{"w":6958,"f":0.225},{"w":6963,"f":0.215},{"w":6968,"f":0.254},{"w":6973,"f":0.225},{"w":6976,"f":0.323},{"w":6981,"f":0.215},{"w":6989,"f":0.213},{"w":6996,"f":0.22},{"w":7002,"f":0.234},{"w":7009,"f":0.254},{"w":7013,"f":0.215},{"w":7022,"f":0.196},{"w":7031,"f":0.201},{"w":7038,"f":0.215},{"w":7045,"f":0.249},
      {"w":7049,"f":0.215},{"w":7054,"f":0.215},{"w":7067,"f":0.215},{"w":7080,"f":0.215},{"w":7093,"f":0.198},{"w":7119,"f":0.196},{"w":7123,"f":0.205},{"w":7132,"f":0.205},{"w":7140,"f":0.225},{"w":7145,"f":0.205},{"w":7158,"f":0.215},{"w":7172,"f":0.22},{"w":7198,"f":0.207},{"w":7211,"f":0.201},{"w":7220,"f":0.207},{"w":7227,"f":0.215},{"w":7232,"f":0.273},{"w":7237,"f":0.644},{"w":7242,"f":0.606},{"w":7247,"f":0.273},{"w":7251,"f":0.316},{"w":7256,"f":0.215},{"w":7266,"f":0.234},{"w":7269,"f":0.234},{"w":7273,"f":0.709},{"w":7277,"f":0.302},{"w":7280,"f":0.418},{"w":7284,"f":0.234},{"w":7289,"f":0.273},{"w":7294,"f":0.234},{"w":7299,"f":0.34},{"w":7303,"f":0.234},{"w":7308,"f":0.311},{"w":7313,"f":0.603},{"w":7318,"f":0.205},{"w":7322,"f":0.234},{"w":7325,"f":0.369},{"w":7329,"f":0.205},{"w":7333,"f":0.311},{"w":7337,"f":0.644},{"w":7341,"f":0.234},{"w":7346,"f":0.215},{"w":7351,"f":0.234},{"w":7355,"f":0.355},{"w":7361,"f":0.215},{"w":7366,"f":0.567},{"w":7370,"f":0.215},{"w":7377,"f":0.215},{"w":7387,"f":0.316},{"w":7391,"f":0.205},{"w":7399,"f":0.427},{"w":7403,"f":0.205},{"w":7413,"f":0.196},{"w":7425,"f":0.268},{"w":7431,"f":0.196},{"w":7436,"f":0.326},{"w":7442,"f":0.196},{"w":7459,"f":0.196},{"w":7464,"f":0.263},{"w":7470,"f":0.316},{"w":7477,"f":0.326},{"w":7481,"f":0.321},{"w":7486,"f":0.234},{"w":7491,"f":0.196},{"w":7514,"f":0.196},{"w":7519,"f":0.509},{"w":7524,"f":0.283},{"w":7529,"f":0.196},{"w":7534,"f":0.234},{"w":7538,"f":0.196},{"w":7543,"f":0.234},{"w":7549,"f":0.263},{"w":7554,"f":0.196},{"w":7560,"f":0.225},{"w":7568,"f":0.391},{"w":7573,"f":0.196},{"w":7579,"f":0.196},{"w":7584,"f":0.254},{"w":7589,"f":0.205},{"w":7594,"f":0.688},{"w":7599,"f":0.471},{"w":7603,"f":0.466},{"w":7607,"f":0.35},{"w":7612,"f":0.331},{"w":7618,"f":0.311},{"w":7624,"f":0.562},{"w":7628,"f":0.35},{"w":7635,"f":0.311},{"w":7641,"f":0.283},{"w":7648,"f":0.254},{"w":7654,"f":0.311},{"w":7661,"f":0.234},{"w":7671,"f":0.215},{"w":7677,"f":0.21},{"w":7684,"f":0.244},{"w":7688,"f":0.254},{"w":7693,"f":0.234},{"w":7697,"f":0.263},{"w":7703,"f":0.225},{"w":7706,"f":0.292},{"w":7712,"f":0.663},{"w":7716,"f":0.297},{"w":7721,"f":0.234},{"w":7726,"f":0.273},{"w":7731,"f":0.234},{"w":7736,"f":0.254},{"w":7740,"f":0.311},{"w":7746,"f":0.752},{"w":7751,"f":0.437},{"w":7755,"f":0.311},{"w":7762,"f":0.234},{"w":7768,"f":0.311},{"w":7772,"f":0.273},{"w":7777,"f":0.365},{"w":7781,"f":0.225},{"w":7786,"f":0.283},{"w":7789,"f":0.63},{"w":7792,"f":0.311},{"w":7798,"f":0.254},{"w":7804,"f":0.311},{"w":7811,"f":0.311},
      {"w":7813,"f":0.273},{"w":7817,"f":0.731},{"w":7821,"f":0.234},{"w":7825,"f":0.273},{"w":7830,"f":0.215},{"w":7832,"f":0.234},{"w":7836,"f":0.398},{"w":7840,"f":0.234},{"w":7844,"f":0.273},{"w":7849,"f":0.707},{"w":7852,"f":0.398},{"w":7855,"f":0.456},{"w":7857,"f":0.437},{"w":7861,"f":0.234},{"w":7865,"f":0.495},{"w":7869,"f":0.273},{"w":7873,"f":0.427},{"w":7877,"f":0.254},{"w":7882,"f":0.311},{"w":7886,"f":0.495},{"w":7890,"f":0.254},{"w":7896,"f":0.234},{"w":7902,"f":0.263},{"w":7906,"f":0.794},{"w":7909,"f":1.0},{"w":7912,"f":0.418},{"w":7916,"f":0.504},{"w":7920,"f":0.273},{"w":7924,"f":0.234},{"w":7928,"f":0.437},{"w":7932,"f":0.254},{"w":7937,"f":0.234},{"w":7943,"f":0.35},{"w":7949,"f":0.234},{"w":7955,"f":0.273},{"w":7960,"f":0.68},{"w":7965,"f":0.234},{"w":7969,"f":0.35},{"w":7973,"f":0.456},{"w":7978,"f":0.234},{"w":7982,"f":0.418},{"w":7988,"f":0.757},{"w":7992,"f":0.311},{"w":7996,"f":0.234},{"w":8000,"f":0.254},{"w":8005,"f":0.398},{"w":8011,"f":0.273},{"w":8017,"f":0.244},{"w":8020,"f":0.625},{"w":8024,"f":0.273},{"w":8028,"f":0.234},{"w":8033,"f":0.215},{"w":8040,"f":0.225},{"w":8046,"f":0.34},{"w":8050,"f":0.234},{"w":8054,"f":0.254},{"w":8057,"f":0.432},{"w":8061,"f":0.234},{"w":8066,"f":0.225},{"w":8079,"f":0.239},{"w":8084,"f":0.244},{"w":8089,"f":0.283},{"w":8092,"f":0.234},{"w":8097,"f":0.336},{"w":8102,"f":0.234},{"w":8112,"f":0.225},{"w":8121,"f":0.22},{"w":8128,"f":0.234},{"w":8132,"f":0.268},{"w":8138,"f":0.234},{"w":8143,"f":0.283},{"w":8149,"f":0.234},{"w":8167,"f":0.239},{"w":8183,"f":0.249},{"w":8196,"f":0.225},{"w":8222,"f":0.234},{"w":8249,"f":0.234},{"w":8262,"f":0.229},{"w":8268,"f":0.239},{"w":8273,"f":0.581},{"w":8277,"f":0.601},{"w":8280,"f":0.774},{"w":8283,"f":0.514},{"w":8286,"f":0.369},{"w":8289,"f":0.514},{"w":8293,"f":0.803},{"w":8296,"f":0.504},{"w":8300,"f":0.254},{"w":8304,"f":0.234},{"w":8307,"f":0.418},{"w":8312,"f":0.254},{"w":8317,"f":0.234},{"w":8327,"f":0.234},{"w":8333,"f":0.263},{"w":8337,"f":1.0},{"w":8341,"f":1.0},{"w":8346,"f":0.446},{"w":8350,"f":0.697},{"w":8353,"f":0.254},{"w":8357,"f":0.234},{"w":8361,"f":0.254},{"w":8366,"f":0.234},{"w":8371,"f":0.273},{"w":8376,"f":0.524},{"w":8380,"f":0.234},{"w":8386,"f":0.234},{"w":8389,"f":0.446},{"w":8392,"f":1.0},{"w":8397,"f":0.234},{"w":8402,"f":0.273},{"w":8405,"f":0.514},{"w":8409,"f":0.644},{"w":8413,"f":0.234},{"w":8417,"f":0.254},{"w":8421,"f":0.504},{"w":8423,"f":1.0},{"w":8426,"f":0.562},{"w":8430,"f":0.234},{"w":8438,"f":0.263},{"w":8442,"f":0.418},{"w":8446,"f":0.234},{"w":8451,"f":0.254},{"w":8455,"f":0.389},{"w":8459,"f":1.0},{"w":8463,"f":0.273},{"w":8467,"f":0.234},{"w":8477,"f":0.234},{"w":8483,"f":0.234},{"w":8487,"f":0.456},{"w":8491,"f":0.234},{"w":8494,"f":0.427},{"w":8498,"f":0.697},{"w":8502,"f":0.273},{"w":8506,"f":0.234},{"w":8526,"f":0.234},{"w":8532,"f":0.345},{"w":8536,"f":0.234},{"w":8542,"f":0.437},{"w":8547,"f":0.234},{"w":8562,"f":0.234},{"w":8575,"f":0.234},
      {"w":8576,"f":0.239},{"w":8581,"f":0.297},{"w":8585,"f":0.239},{"w":8589,"f":0.326},{"w":8593,"f":0.263},{"w":8597,"f":0.239},{"w":8602,"f":0.254},{"w":8607,"f":0.331},{"w":8612,"f":0.408},{"w":8617,"f":0.475},{"w":8622,"f":0.509},{"w":8627,"f":0.495},{"w":8632,"f":0.398},{"w":8637,"f":0.302},{"w":8641,"f":0.398},{"w":8645,"f":0.514},{"w":8650,"f":0.553},{"w":8653,"f":0.557},{"w":8656,"f":0.543},{"w":8661,"f":0.446},{"w":8665,"f":0.408},{"w":8669,"f":0.369},{"w":8672,"f":0.311},{"w":8678,"f":0.292},{"w":8682,"f":0.268},{"w":8687,"f":0.283},{"w":8692,"f":0.263},{"w":8697,"f":0.273},{"w":8702,"f":0.283},{"w":8706,"f":0.239},{"w":8717,"f":0.234},{"w":8726,"f":0.239},{"w":8738,"f":0.249},{"w":8744,"f":0.249},{"w":8748,"f":0.446},{"w":8751,"f":1.0},{"w":8756,"f":1.0},{"w":8760,"f":0.736},{"w":8765,"f":1.0},{"w":8770,"f":0.379},{"w":8775,"f":0.263},{"w":8783,"f":0.254},{"w":8790,"f":0.254},{"w":8798,"f":0.283},{"w":8803,"f":0.254},{"w":8808,"f":0.263},{"w":8815,"f":1.0},{"w":8819,"f":0.659},{"w":8822,"f":1.0},{"w":8826,"f":1.0},{"w":8830,"f":0.446},{"w":8834,"f":0.263},{"w":8839,"f":0.495},{"w":8843,"f":0.263},{"w":8847,"f":0.292},{"w":8852,"f":0.263},{"w":8856,"f":0.678},{"w":8862,"f":0.273},{"w":8867,"f":0.273},{"w":8873,"f":0.34},{"w":8877,"f":1.0},{"w":8881,"f":0.273},{"w":8886,"f":0.273},{"w":8891,"f":0.311},{"w":8896,"f":0.794},{"w":8899,"f":0.292},{"w":8904,"f":0.311},{"w":8907,"f":1.0},{"w":8911,"f":1.0},{"w":8914,"f":0.35},{"w":8918,"f":0.273},{"w":8922,"f":0.311},{"w":8927,"f":0.283},{"w":8932,"f":0.707},{"w":8936,"f":0.311},{"w":8940,"f":0.273},{"w":8944,"f":1.0},{"w":8948,"f":1.0},{"w":8952,"f":0.437},{"w":8956,"f":0.273},{"w":8959,"f":0.321},{"w":8963,"f":0.273},{"w":8967,"f":0.311},{"w":8972,"f":0.273},{"w":8978,"f":0.302},{"w":8982,"f":0.717},{"w":8986,"f":0.562},{"w":8989,"f":1.0},{"w":8993,"f":1.0},{"w":8997,"f":0.62},{"w":9001,"f":0.273},{"w":9005,"f":0.273},{"w":9012,"f":0.283},{"w":9018,"f":0.263},{"w":9023,"f":0.283},{"w":9028,"f":0.398},{"w":9031,"f":0.475},{"w":9035,"f":0.311},{"w":9038,"f":0.283},{"w":9041,"f":0.62},{"w":9044,"f":0.321},{"w":9048,"f":0.292},{"w":9052,"f":0.278},{"w":9057,"f":0.297},{"w":9063,"f":0.292},{"w":9068,"f":0.273},{"w":9073,"f":0.283},{"w":9077,"f":0.273},{"w":9082,"f":0.311},{"w":9085,"f":0.408},{"w":9087,"f":0.292},{"w":9091,"f":0.311},{"w":9095,"f":0.471},{"w":9099,"f":0.311},{"w":9103,"f":0.273},{"w":9116,"f":0.273},{"w":9129,"f":0.283},{"w":9136,"f":0.283},{"w":9142,"f":0.311},{"w":9146,"f":0.369},{"w":9150,"f":0.331},{"w":9154,"f":0.413},{"w":9158,"f":0.331},{"w":9162,"f":0.292},{"w":9175,"f":0.287},{"w":9188,"f":0.287},{"w":9201,"f":0.297},{"w":9207,"f":0.369},{"w":9213,"f":0.331},{"w":9216,"f":0.398},{"w":9220,"f":0.331},{"w":9224,"f":0.297},{"w":9235,"f":0.311},{"w":9240,"f":0.34},{"w":9244,"f":0.311},{"w":9249,"f":0.326},{"w":9253,"f":0.302},{"w":9258,"f":0.331},{"w":9263,"f":0.302},{"w":9269,"f":0.307},{"w":9274,"f":0.331},{"w":9278,"f":0.398},{"w":9282,"f":0.427},{"w":9284,"f":0.379},{"w":9287,"f":0.427},{"w":9291,"f":0.379},{"w":9295,"f":0.379},{"w":9302,"f":0.379}
    ],
    "zero": [{"f": 0}]
  },
  "config": {
    "view": {"stroke": "black", "strokeWidth": 3.5},
    "axis": {
      "domain": false,
      "grid": false,
      "labelFont": "DejaVu Sans",
      "titleFont": "DejaVu Sans",
      "labelColor": "black",
      "titleColor": "black",
      "tickColor": "black",
      "tickWidth": 2.5,
      "titleFontWeight": "normal"
    }
  },
  "layer": [
    {
      "data": {"name": "zero"},
      "mark": {"type": "rule", "color": "#0000ff", "strokeWidth": 5.8},
      "encoding": {
        "y": {
          "field": "f",
          "type": "quantitative",
          "title": "10⁻¹⁸ erg s⁻¹ cm⁻² Å⁻¹",
          "scale": {"domain": [-0.639, 0.838], "nice": false, "zero": false}
        }
      }
    },
    {
      "data": {"name": "flux"},
      "mark": {"type": "line", "color": "black", "strokeWidth": 4.3, "strokeJoin": "round", "clip": true},
      "encoding": {
        "x": {
          "field": "w",
          "type": "quantitative",
          "title": "Wavelength",
          "scale": {"domain": [4748, 9302], "nice": false, "zero": false},
          "axis": {
            "values": [5000, 6000, 7000, 8000, 9000],
            "format": "d",
            "labelFontSize": 28,
            "tickSize": 14,
            "labelPadding": 40,
            "labelBaseline": "alphabetic",
            "labelFlush": false,
            "titleFontSize": 32,
            "titleX": 1163,
            "titleY": 91,
            "titleAlign": "center",
            "titleBaseline": "alphabetic"
          }
        },
        "y": {
          "field": "f",
          "type": "quantitative",
          "title": "10⁻¹⁸ erg s⁻¹ cm⁻² Å⁻¹",
          "scale": {"domain": [-0.639, 0.838], "nice": false, "zero": false},
          "axis": {
            "values": [-0.6, -0.4, -0.2, 0, 0.2, 0.4, 0.6, 0.8],
            "format": ".1f",
            "labelFontSize": 35,
            "tickSize": 15,
            "labelPadding": 16,
            "labelBaseline": "middle",
            "labelFlush": false,
            "titleFontSize": 48,
            "titleX": -149,
            "titleY": 347,
            "titleAngle": 270,
            "titleAlign": "center",
            "titleBaseline": "alphabetic"
          }
        }
      }
    },
    {
      "data": {"name": "err"},
      "mark": {"type": "line", "color": "#008000", "strokeWidth": 1.3, "strokeJoin": "round", "clip": true},
      "encoding": {
        "x": {
          "field": "w",
          "type": "quantitative",
          "title": "Wavelength",
          "scale": {"domain": [4748, 9302], "nice": false, "zero": false}
        },
        "y": {
          "field": "f",
          "type": "quantitative",
          "title": "10⁻¹⁸ erg s⁻¹ cm⁻² Å⁻¹",
          "scale": {"domain": [-0.639, 0.838], "nice": false, "zero": false}
        }
      }
    }
  ]
}
